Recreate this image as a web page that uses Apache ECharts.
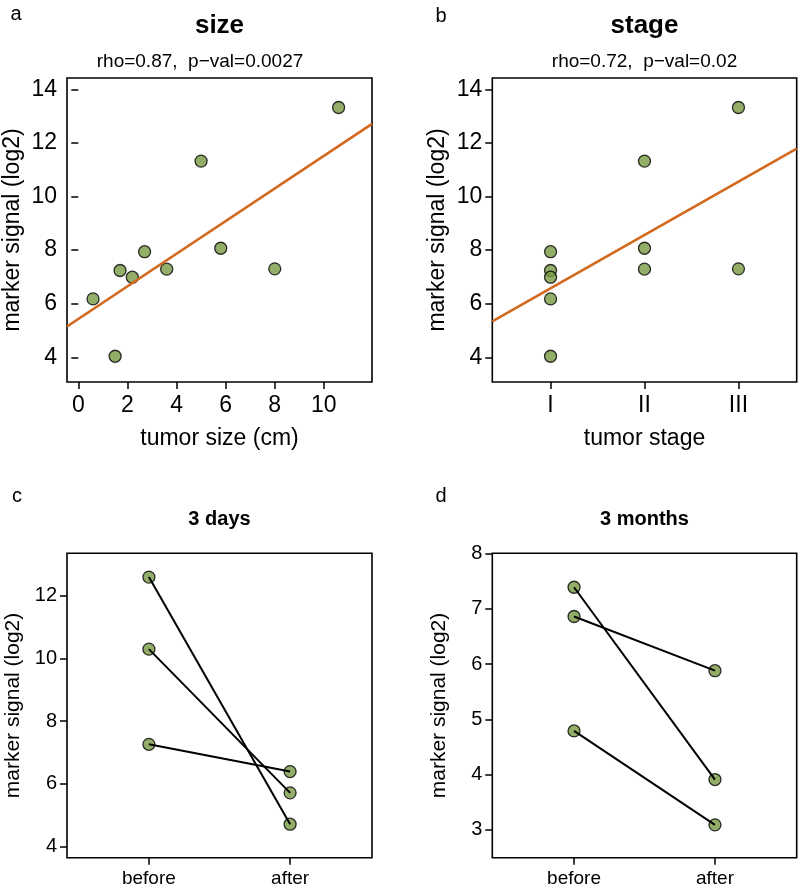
<!DOCTYPE html>
<html><head><meta charset="utf-8">
<script src="https://cdn.jsdelivr.net/npm/echarts@6/dist/echarts.min.js"></script>
<style>html,body{margin:0;padding:0;background:#fff}#c{width:800px;height:889px}</style>
</head><body><div id="c"></div><script>
// ---- data ----
const tumorSize    = [0.6, 1.5, 1.7, 2.2, 2.7, 3.6, 5.0, 5.8, 8.0, 10.6];
const tumorStage   = [1, 1, 1, 1, 1, 2, 2, 2, 3, 3];
const markerSignal = [6.18, 4.04, 7.24, 6.99, 7.94, 7.29, 11.32, 8.07, 7.30, 13.32];
const sizeTicks    = [0, 2, 4, 6, 8, 10];
const signalTicks  = [4, 6, 8, 10, 12, 14];
const stageTicks   = [1, 2, 3];
const stageLabels  = ['I', 'II', 'III'];
const pairTicks    = [1, 2];
const pairLabels   = ['before', 'after'];
const daysBefore   = [12.60, 10.30, 7.26];
const daysAfter    = [4.71, 5.71, 6.39];
const daysTicks    = [4, 6, 8, 10, 12];
const monthsBefore = [7.39, 6.86, 4.79];
const monthsAfter  = [3.91, 5.88, 3.09];
const monthsTicks  = [3, 4, 5, 6, 7, 8];
const statsSize    = 'rho=0.87,  p\u2212val=0.0027';
const statsStage   = 'rho=0.72,  p\u2212val=0.02';

// ---- styling ----
const FONT = 'Liberation Sans, Arial, Helvetica, sans-serif';
const GREEN = '#789A44';
const ORANGE = '#D2691E';

function fit(xs, ys) {
  const n = xs.length;
  const mx = xs.reduce((a, b) => a + b, 0) / n;
  const my = ys.reduce((a, b) => a + b, 0) / n;
  let sxy = 0, sxx = 0;
  for (let i = 0; i < n; i++) { sxy += (xs[i] - mx) * (ys[i] - my); sxx += (xs[i] - mx) ** 2; }
  const b = sxy / sxx;
  return { a: my - b * mx, b };
}

function xAxis(gi, min, max, ticks, fmt, fs, name, nameFs) {
  return {
    type: 'value', gridIndex: gi, min, max,
    axisLine: { show: false },
    splitLine: { show: false },
    axisTick: { show: true, inside: false, length: 7, customValues: ticks, lineStyle: { color: '#000', width: 1.5 } },
    axisLabel: { customValues: ticks, formatter: fmt, color: '#000', fontSize: fs, fontFamily: FONT, margin: 12 },
    name: name, nameLocation: 'middle', nameGap: 45,
    nameTextStyle: { color: '#000', fontSize: nameFs, fontFamily: FONT }
  };
}
function yAxis(gi, min, max, ticks, fs, nameFs) {
  return {
    type: 'value', gridIndex: gi, min, max,
    axisLine: { show: false },
    splitLine: { show: false },
    axisTick: { show: true, inside: false, length: 7, customValues: ticks, lineStyle: { color: '#000', width: 1.5 } },
    axisLabel: { customValues: ticks, color: '#000', fontSize: fs, fontFamily: FONT, margin: 10 },
    name: 'marker signal (log2)', nameLocation: 'middle', nameGap: 43, nameRotate: 90,
    nameTextStyle: { color: '#000', fontSize: nameFs, fontFamily: FONT }
  };
}

const grids = [
  { left: 67, top: 78, width: 305, height: 304 },
  { left: 492.3, top: 78, width: 304.4, height: 304 },
  { left: 67, top: 553.3, width: 305, height: 304.4 },
  { left: 492.3, top: 553.3, width: 304.4, height: 304.4 }
].map(g => Object.assign(g, { show: true, borderColor: '#000', borderWidth: 1.6, backgroundColor: 'transparent', containLabel: false }));

const xa = [-0.46, 11.96], xb = [0.38, 3.62], xc = [0.42, 2.58];
const fa = fit(tumorSize, markerSignal);
const fb = fit(tumorStage, markerSignal);

const scatterStyle = { color: GREEN, borderColor: '#000', borderWidth: 1.3 };

const series = [
  { type: 'line', xAxisIndex: 0, yAxisIndex: 0, symbol: 'none', silent: true,
    lineStyle: { color: ORANGE, width: 2.6 },
    data: xa.map(x => [x, fa.a + fa.b * x]) },
  { type: 'scatter', xAxisIndex: 0, yAxisIndex: 0, symbolSize: 12, itemStyle: scatterStyle,
    data: tumorSize.map((x, i) => [x, markerSignal[i]]) },
  { type: 'line', xAxisIndex: 1, yAxisIndex: 1, symbol: 'none', silent: true,
    lineStyle: { color: ORANGE, width: 2.6 },
    data: xb.map(x => [x, fb.a + fb.b * x]) },
  { type: 'scatter', xAxisIndex: 1, yAxisIndex: 1, symbolSize: 12, itemStyle: scatterStyle,
    data: tumorStage.map((x, i) => [x, markerSignal[i]]) }
];
function pairSeries(gi, before, after) {
  before.forEach((b, i) => {
    series.push({ type: 'line', xAxisIndex: gi, yAxisIndex: gi, symbol: 'none', silent: true,
      lineStyle: { color: '#000', width: 2 },
      data: [[pairTicks[0], b], [pairTicks[1], after[i]]] });
  });
  const pts = [];
  before.forEach((b, i) => { pts.push([pairTicks[0], b]); pts.push([pairTicks[1], after[i]]); });
  series.push({ type: 'scatter', xAxisIndex: gi, yAxisIndex: gi, symbolSize: 12, itemStyle: scatterStyle, data: pts });
}
pairSeries(2, daysBefore, daysAfter);
pairSeries(3, monthsBefore, monthsAfter);

function txt(x, y, text, fs, bold) {
  return { type: 'text', x, y, silent: true,
    style: { text, fontSize: fs, fontWeight: bold ? 'bold' : 'normal', fontFamily: FONT, fill: '#000', align: 'center', verticalAlign: 'middle' } };
}

const chart = echarts.init(document.getElementById('c'), null, { renderer: 'canvas' });
chart.setOption({
  animation: false,
  backgroundColor: '#fff',
  grid: grids,
  xAxis: [
    xAxis(0, xa[0], xa[1], sizeTicks, v => String(v), 23, 'tumor size (cm)', 23),
    xAxis(1, xb[0], xb[1], stageTicks, v => stageLabels[stageTicks.indexOf(v)], 23, 'tumor stage', 23),
    xAxis(2, xc[0], xc[1], pairTicks, v => pairLabels[pairTicks.indexOf(v)], 19, '', 19),
    xAxis(3, xc[0], xc[1], pairTicks, v => pairLabels[pairTicks.indexOf(v)], 19, '', 19)
  ],
  yAxis: [
    yAxis(0, 3.08, 14.42, signalTicks, 23, 23),
    yAxis(1, 3.08, 14.42, signalTicks, 23, 23),
    yAxis(2, 3.64, 13.36, daysTicks, 20, 21),
    yAxis(3, 2.496, 8.004, monthsTicks, 20, 21)
  ],
  series,
  graphic: [
    txt(16, 14, 'a', 20), txt(441, 16, 'b', 20), txt(17, 496, 'c', 20), txt(441, 496, 'd', 20),
    txt(219.5, 26, 'size', 26, true), txt(644.5, 26, 'stage', 26, true),
    txt(200, 62, statsSize, 19), txt(644.5, 62, statsStage, 19),
    txt(219.5, 519, '3 days', 20, true), txt(644.5, 519, '3 months', 20, true)
  ]
});
</script></body></html>
